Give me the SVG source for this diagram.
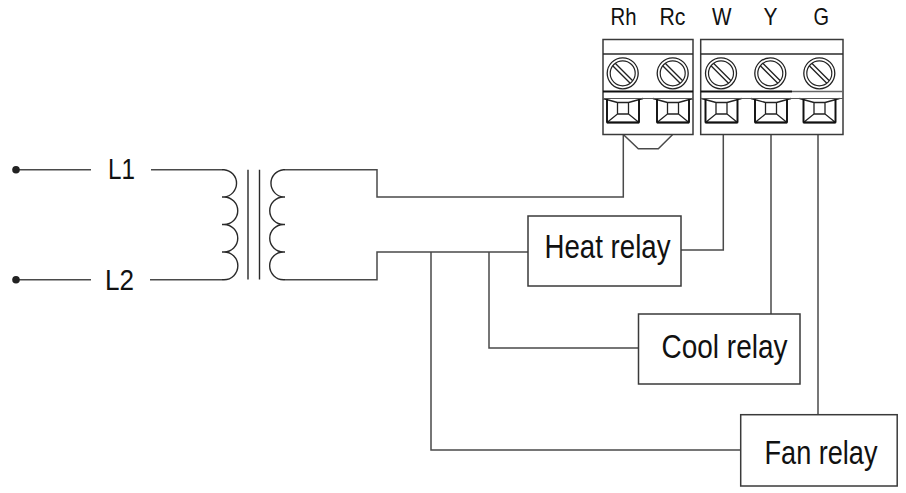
<svg xmlns="http://www.w3.org/2000/svg" width="906" height="493" viewBox="0 0 906 493">
<defs>
<style>
.w{fill:none;stroke:#4a4a4a;stroke-width:1.5}
.b{fill:#fff;stroke:#3a3a3a;stroke-width:1.5}
.k{fill:none;stroke:#2a2a2a;stroke-width:1.4}
.t{font-family:"Liberation Sans",Arial,sans-serif;fill:#111}
.l{font-size:30px}.s{font-size:24.500px}.r{font-size:33.500px}
</style>
<g id="screw"><circle r="15.500" fill="#fff" stroke="#222" stroke-width="1.300"/><circle r="12.500" fill="none" stroke="#222" stroke-width="1.200"/><path d="M-10-7.500L7.500 10M-7.500-10L10 7.500" stroke="#222" stroke-width="1.300"/></g>
<g id="clamp"><path d="M-16 0V24H16V0M-16 24L-5.500 15.500V4H5.500V15.500L16 24M-5.500 15.500H5.500M-20 0L-5.500 4M20 0L5.500 4" fill="none" stroke="#222" stroke-width="1.300"/><path d="M-16 24H16M-16 0V24M16 0V24" stroke="#111" stroke-width="1.800"/></g>
</defs>
<rect width="906" height="493" fill="#fff"/>
<g id="connectors">
<path class="w" d="M16 169.700H91M151 169.700H222M16 279.700H91M150 279.700H222"/>
<path class="w" d="M285 169.700H377V197H623.300V134.500"/>
<path class="w" d="M285 279.700H377V252H528"/>
<path class="w" d="M681 250H723.300V134.500"/>
<path class="w" d="M771 134.500V314"/>
<path class="w" d="M818 134.500V415"/>
<path class="w" d="M489 252V348H638"/>
<path class="w" d="M431 252V450H741"/>
<path class="w" d="M623.300 134.500L638.300 148.700H658.300L672.700 134.500"/>
</g>
<g id="L1-terminal"><circle cx="16" cy="169.700" r="3.800" fill="#222"/><text class="t l" x="108" y="178.700" textLength="27" lengthAdjust="spacingAndGlyphs">L1</text></g>
<g id="L2-terminal"><circle cx="16" cy="279.700" r="3.800" fill="#222"/><text class="t l" x="105" y="290" textLength="29" lengthAdjust="spacingAndGlyphs">L2</text></g>
<g id="transformer">
<path class="k" d="M222 169.700H224A13.700 13.700 0 0 1 224 197H222M222 197H224A13.700 13.700 0 0 1 224 224.500H222M222 224.500H224A13.700 13.700 0 0 1 224 252H222M222 252H224A13.700 13.700 0 0 1 224 279.700H222"/>
<path class="k" d="M285 169.700H283.500A13.700 13.700 0 0 0 283.500 197H285M285 197H283.500A13.700 13.700 0 0 0 283.500 224.500H285M285 224.500H283.500A13.700 13.700 0 0 0 283.500 252H285M285 252H283.500A13.700 13.700 0 0 0 283.500 279.700H285"/>
<path class="k" d="M248 169.700V279.500M259.500 169.700V279.500"/>
</g>
<g id="terminal-block-R">
<rect class="b" x="603" y="39.500" width="90" height="95"/>
<path class="k" d="M603 54H693"/>
<use href="#screw" x="622.700" y="73.300"/><use href="#screw" x="672.700" y="73.300"/>
<use href="#clamp" x="623" y="98.500"/><use href="#clamp" x="673" y="98.500"/>
<path d="M603 91.500H693" stroke="#111" stroke-width="2" fill="none"/>
<path d="M603 98.500H693" stroke="#555" stroke-width="1.200" fill="none"/>
<text class="t s" x="610.500" y="25" textLength="26" lengthAdjust="spacingAndGlyphs">Rh</text>
<text class="t s" x="659.500" y="25" textLength="26" lengthAdjust="spacingAndGlyphs">Rc</text>
</g>
<g id="terminal-block-WYG">
<rect class="b" x="700.700" y="39.500" width="142.300" height="95"/>
<path class="k" d="M700.700 54H843"/>
<use href="#screw" x="721" y="73.300"/><use href="#screw" x="770.300" y="73.300"/><use href="#screw" x="819.300" y="73.300"/>
<use href="#clamp" x="721.500" y="98.500"/><use href="#clamp" x="771" y="98.500"/><use href="#clamp" x="819.500" y="98.500"/>
<path d="M700.700 91.500H792" stroke="#111" stroke-width="2" fill="none"/>
<path d="M792 91.500H843" stroke="#666" stroke-width="1.500" fill="none"/>
<path d="M700.700 98.500H843" stroke="#555" stroke-width="1.200" fill="none"/>
<text class="t s" x="712" y="25" textLength="19.500" lengthAdjust="spacingAndGlyphs">W</text>
<text class="t s" x="763.500" y="25" textLength="14" lengthAdjust="spacingAndGlyphs">Y</text>
<text class="t s" x="813.500" y="25" textLength="15.500" lengthAdjust="spacingAndGlyphs">G</text>
</g>
<g id="heat-relay"><rect class="b" x="528" y="216" width="153" height="70"/><text class="t r" x="544.500" y="258.300" textLength="126" lengthAdjust="spacingAndGlyphs">Heat relay</text></g>
<g id="cool-relay"><rect class="b" x="638.500" y="314" width="161.500" height="70"/><text class="t r" x="661.500" y="357.700" textLength="126" lengthAdjust="spacingAndGlyphs">Cool relay</text></g>
<g id="fan-relay"><rect class="b" x="740.700" y="414.700" width="156.500" height="71.300"/><text class="t r" x="764.500" y="464.300" textLength="113" lengthAdjust="spacingAndGlyphs">Fan relay</text></g>
</svg>
